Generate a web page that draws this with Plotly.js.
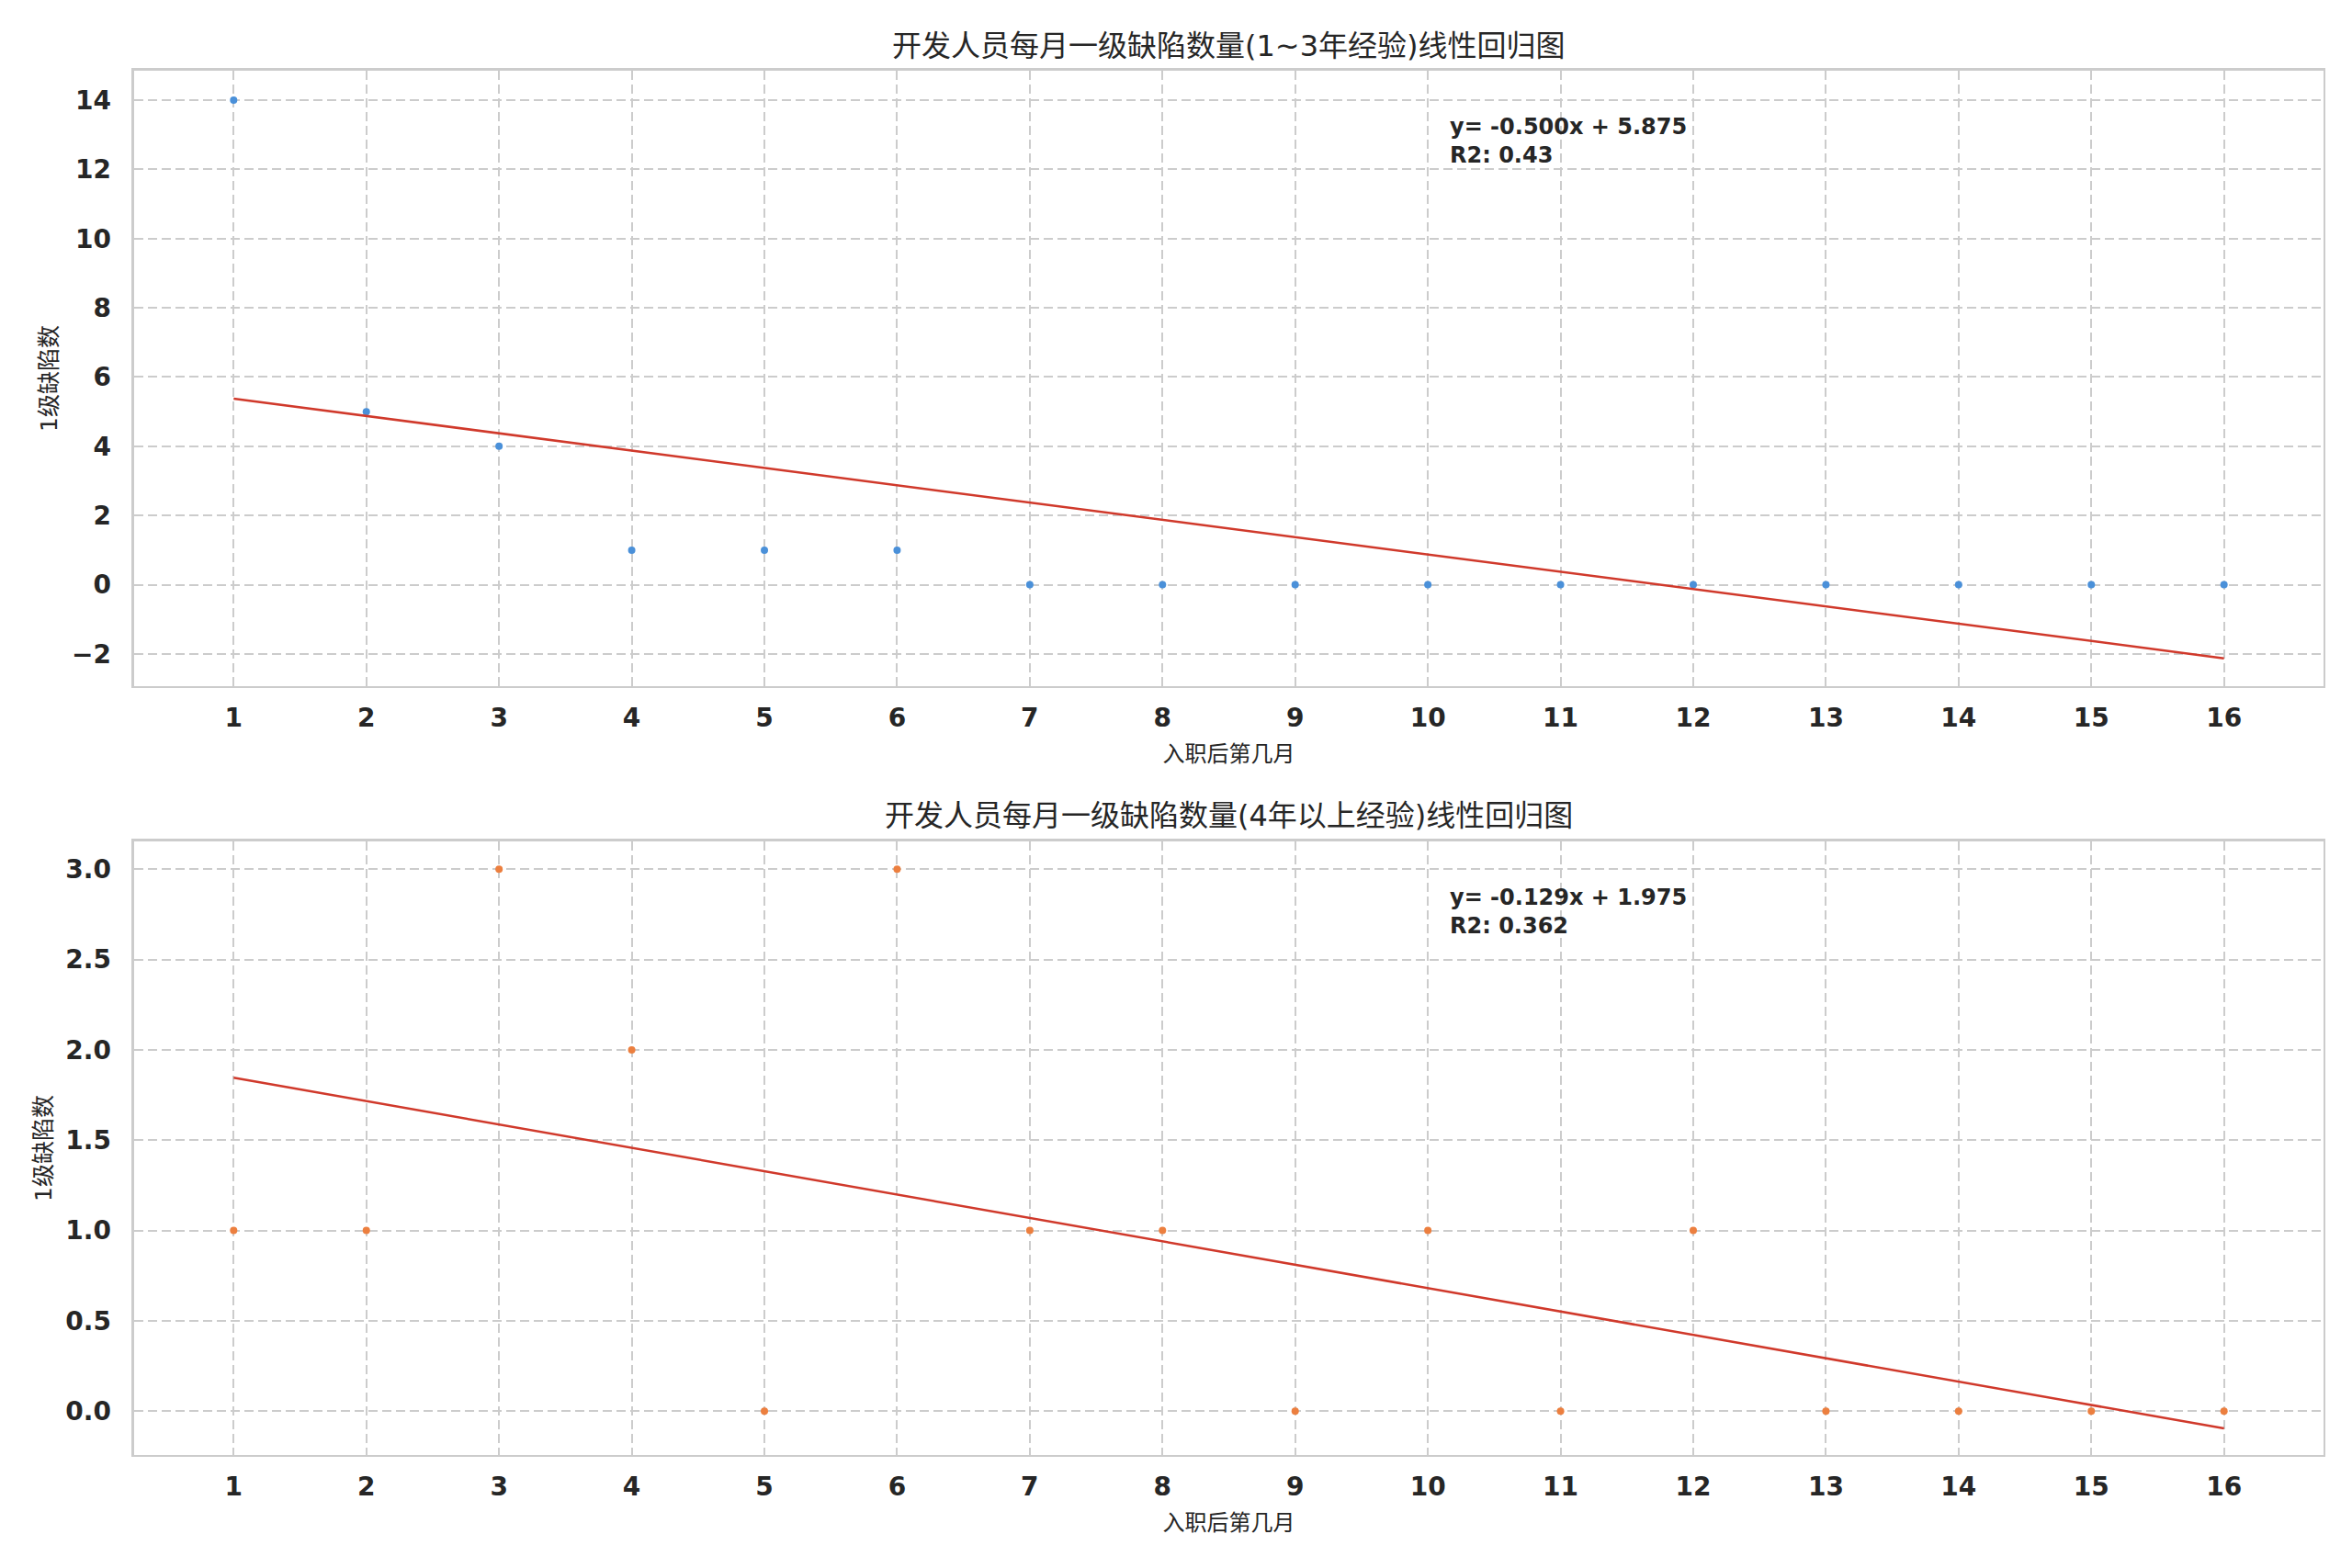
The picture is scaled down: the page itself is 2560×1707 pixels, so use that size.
<!DOCTYPE html>
<html>
<head>
<meta charset="utf-8">
<script src="https://cdn.plot.ly/plotly-3.0.1.min.js"></script>
<style>
  html, body { margin: 0; padding: 0; background: #fff; }
  #chart { width: 2560px; height: 1707px; }
</style>
</head>
<body>
<div id="chart"></div>
<script>
let months = [1, 2, 3, 4, 5, 6, 7, 8, 9, 10, 11, 12, 13, 14, 15, 16];
let juniorDefects = [14, 5, 4, 1, 1, 1, 0, 0, 0, 0, 0, 0, 0, 0, 0, 0];
let seniorDefects = [1, 1, 3, 2, 0, 3, 1, 1, 0, 1, 0, 1, 0, 0, 0, 0];

let titleJunior = '开发人员每月一级缺陷数量(1~3年经验)线性回归图';
let titleSenior = '开发人员每月一级缺陷数量(4年以上经验)线性回归图';
let xLabel = '入职后第几月';
let yLabel = '1级缺陷数';

let font = 'DejaVu Sans, Noto Sans CJK SC, sans-serif';
let textColor = '#262626';

// least squares fit, same as the original regression
function linfit(x, y) {
  let n = x.length;
  let mx = x.reduce((a, b) => a + b, 0) / n;
  let my = y.reduce((a, b) => a + b, 0) / n;
  let sxy = 0, sxx = 0, syy = 0;
  for(let i = 0; i < n; i++) {
    sxy += (x[i] - mx) * (y[i] - my);
    sxx += (x[i] - mx) * (x[i] - mx);
    syy += (y[i] - my) * (y[i] - my);
  }
  let slope = sxy / sxx;
  let intercept = my - slope * mx;
  return { slope: slope, intercept: intercept, r2: (sxy * sxy) / (sxx * syy) };
}

function fitTrace(y, xa, ya) {
  let f = linfit(months, y);
  return {
    x: months,
    y: months.map(m => f.slope * m + f.intercept),
    xaxis: xa, yaxis: ya,
    mode: 'lines',
    line: { color: '#d0392b', width: 2.5 },
    hoverinfo: 'skip'
  };
}

function fitText(y) {
  let f = linfit(months, y);
  let sign = f.intercept >= 0 ? ' + ' : ' - ';
  return 'y= ' + f.slope.toFixed(3) + 'x' + sign + Math.abs(f.intercept).toFixed(3) +
    '<br>R2: ' + Number(f.r2.toFixed(3)).toString();
}

function axisX() {
  return {
    domain: [0.05703, 0.98789],
    range: [0.25, 16.75],
    tickvals: months,
    ticks: '',
    ticklabelstandoff: 8,
    tickfont: { family: font, size: 28, color: textColor, weight: 'bold' },
    showgrid: true,
    gridcolor: '#cccccc',
    gridwidth: 2,
    griddash: '10px,5px',
    zeroline: false,
    showline: true,
    linecolor: '#cccccc',
    linewidth: 2.5,
    mirror: true,
    title: { text: xLabel, font: { family: font, size: 24, color: textColor }, standoff: 15 }
  };
}

function axisY(domain, range, dtick, fmt) {
  return {
    domain: domain,
    range: range,
    dtick: dtick,
    tickformat: fmt,
    ticks: '',
    ticklabelstandoff: 17,
    tickfont: { family: font, size: 28, color: textColor, weight: 'bold' },
    showgrid: true,
    gridcolor: '#cccccc',
    gridwidth: 2,
    griddash: '10px,5px',
    zeroline: false,
    showline: true,
    linecolor: '#cccccc',
    linewidth: 2.5,
    mirror: true,
    title: { text: yLabel, font: { family: font, size: 25, color: textColor }, standoff: 8 }
  };
}

let traces = [
  {
    x: months, y: juniorDefects, xaxis: 'x', yaxis: 'y',
    mode: 'markers',
    marker: { color: '#4a90d9', size: 8 }
  },
  fitTrace(juniorDefects, 'x', 'y'),
  {
    x: months, y: seniorDefects, xaxis: 'x2', yaxis: 'y2',
    mode: 'markers',
    marker: { color: '#ec7f3f', size: 8 }
  },
  fitTrace(seniorDefects, 'x2', 'y2')
];

let layout = {
  width: 2560,
  height: 1707,
  showlegend: false,
  paper_bgcolor: '#ffffff',
  plot_bgcolor: '#ffffff',
  margin: { l: 0, r: 0, t: 0, b: 0 },
  font: { family: font, color: textColor },
  xaxis: axisX(),
  yaxis: axisY([0.5624, 0.9549], [-2.93, 14.85], 2, 'd'),
  xaxis2: Object.assign(axisX(), { anchor: 'y2' }),
  yaxis2: Object.assign(axisY([0.07206, 0.46339], [-0.243, 3.154], 0.5, '.1f'), { anchor: 'x2' }),
  annotations: [
    {
      xref: 'paper', yref: 'paper', x: 0.5225, y: 0.9705,
      xanchor: 'center', yanchor: 'middle', showarrow: false,
      text: titleJunior, font: { family: font, size: 32, color: textColor }
    },
    {
      xref: 'paper', yref: 'paper', x: 0.5225, y: 0.4796,
      xanchor: 'center', yanchor: 'middle', showarrow: false,
      text: titleSenior, font: { family: font, size: 32, color: textColor }
    },
    {
      xref: 'x domain', yref: 'y domain', x: 0.6, y: 0.933,
      xanchor: 'left', yanchor: 'top', align: 'left', showarrow: false,
      text: fitText(juniorDefects),
      font: { family: font, size: 24, color: textColor, weight: 'bold' }
    },
    {
      xref: 'x2 domain', yref: 'y2 domain', x: 0.6, y: 0.933,
      xanchor: 'left', yanchor: 'top', align: 'left', showarrow: false,
      text: fitText(seniorDefects),
      font: { family: font, size: 24, color: textColor, weight: 'bold' }
    }
  ]
};

Plotly.newPlot('chart', traces, layout, { displayModeBar: false, staticPlot: true });
</script>
</body>
</html>
